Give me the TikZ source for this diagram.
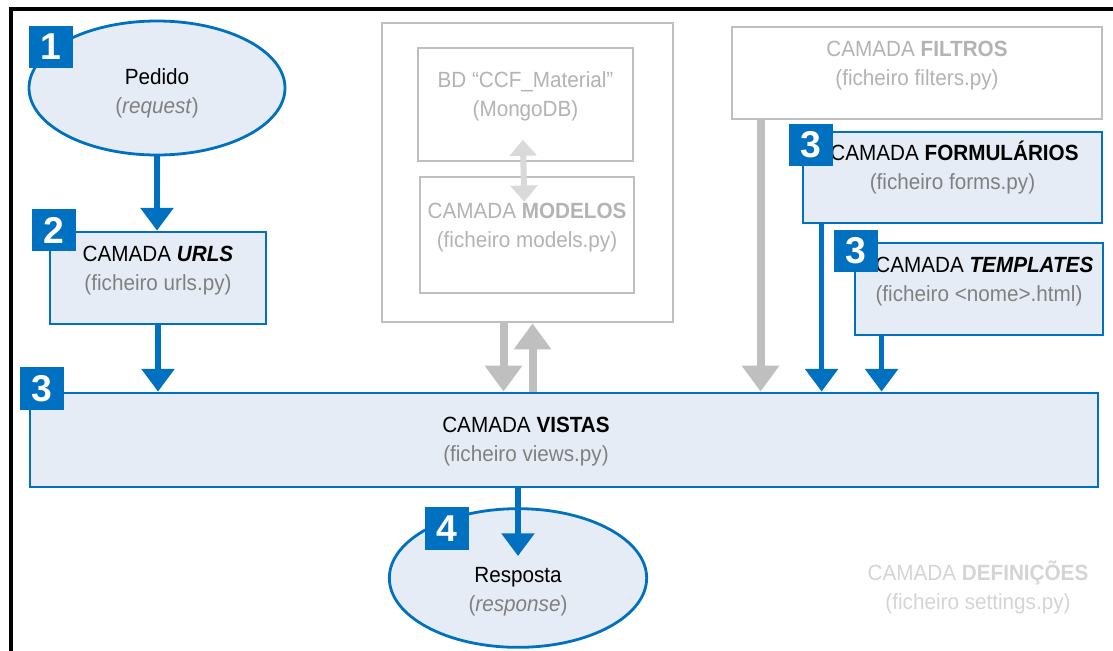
\documentclass[tikz,border=0pt]{standalone}
\usepackage{fontspec}
\setmainfont[FakeStretch=0.94]{Liberation Sans}
\newfontfamily\digitfont{Liberation Sans}
\usetikzlibrary{arrows.meta,shapes.geometric,fit}

\definecolor{navy}{HTML}{0070C0}
\definecolor{paleblue}{HTML}{E6ECF6}
\definecolor{subgray}{HTML}{808080}
\definecolor{boxgray}{HTML}{BFBFBF}
\definecolor{fadedtext}{HTML}{B3B3B3}
\definecolor{lightline}{HTML}{D9D9D9}
\definecolor{ghost}{HTML}{D4D4D4}

\newcommand{\subline}[1]{{\color{subgray}#1}}

\tikzset{
  txt/.style={align=center, inner sep=0pt, font=\fontsize{16.5}{21.75}\selectfont},
  layer/.style={txt, draw=navy, fill=paleblue, line width=2.1pt},
  greylayer/.style={txt, draw=boxgray, fill=white, line width=2.2pt, text=fadedtext},
  oval/.style={ellipse, draw=navy, fill=paleblue, line width=2.1pt, inner sep=0pt},
  badge/.style={fill=navy, text=white, minimum width=33pt, minimum height=32pt,
    inner sep=0pt, font=\digitfont\fontsize{28}{28}\selectfont\bfseries},
  flow/.style={draw=navy, line width=4.1pt, -{Triangle[width=24pt,length=17pt]}},
  greyflow/.style={draw=boxgray, line width=6pt, -{Triangle[width=27pt,length=19.5pt]}},
  linkflow/.style={draw=lightline, line width=4.5pt,
    {Triangle[width=20pt,length=12pt]}-{Triangle[width=20pt,length=12pt]}},
}

\begin{document}
\begin{tikzpicture}[x=0.75pt, y=-0.75pt]
\useasboundingbox (0,0) rectangle (1113,650);

% frame lines (top and left)
\draw[line width=2.3pt, line cap=rect] (11,650) -- (11,9) -- (1113,9);

% request / response ovals
\node[oval, minimum width=192pt, minimum height=100.5pt] (pedido) at (157,88) {};
\node[txt] (pedidotxt) at (157,93.5) {Pedido\\\subline{(\textit{request})}};

\node[oval, minimum width=193pt, minimum height=104pt] (resp) at (518,578) {};
\node[txt] (resptxt) at (518,592) {Resposta\\\subline{(\textit{response})}};

% URLS layer
\node[layer, fit={(50,232) (266,324)}] (urls)
  {CAMADA \textbf{\textit{URLS}}\\\subline{(ficheiro urls.py)}};

% VISTAS layer
\node[layer, fit={(30,393) (1098,487)}] (vistas) {};
\node[txt] (vistastxt) at (526,441.5)
  {CAMADA \textbf{VISTAS}\\\subline{(ficheiro views.py)}};

% database and models
\node[greylayer, fit={(382,23) (673,322)}] (modelsframe) {};
\node[greylayer, fit={(418,48) (633,161)}] (bd)
  {BD “CCF\_Material”\\(MongoDB)};
\node[greylayer, fit={(420,177) (634,293)}] (models)
  {CAMADA \textbf{MODELOS}\\(ficheiro models.py)};

% filters, forms, templates
\node[greylayer, fit={(732,27) (1102,119)}] (filters)
  {CAMADA \textbf{FILTROS}\\(ficheiro filters.py)};
\node[layer, fit={(803,132) (1102,223)}] (forms)
  {\hspace*{3pt}CAMADA \textbf{FORMULÁRIOS}\\\subline{(ficheiro forms.py)}};
\node[layer, fit={(855,243) (1103,335)}] (templates)
  {\hspace*{8pt}CAMADA \textbf{\textit{TEMPLATES}}\\\subline{(ficheiro <nome>.html)}};

% settings layer (no box)
\node[txt, text=ghost] (settings) at (978,587)
  {CAMADA \textbf{DEFINIÇÕES}\\(ficheiro settings.py)};

% connectors
\coordinate (resptip) at (518,556);
\draw[flow] (pedido.south) -- (pedido.south |- urls.north);
\draw[flow] (urls.south) -- (urls.south |- vistas.north);
\draw[flow] (resptip |- vistas.south) -- (resptip);
\draw[flow] ([xshift=15pt]forms.south west) -- ([xshift=15pt]forms.south west |- vistas.north);
\draw[flow] ([xshift=21pt]templates.south west) -- ([xshift=21pt]templates.south west |- vistas.north);
\draw[greyflow] ([xshift=22.5pt]filters.south west) -- ([xshift=22.5pt]filters.south west |- vistas.north);
\draw[greyflow] ([xshift=92.25pt]modelsframe.south west) -- ([xshift=92.25pt]modelsframe.south west |- vistas.north);
\draw[greyflow] ([xshift=114pt]modelsframe.south west |- vistas.north) -- ([xshift=114pt]modelsframe.south west);
\draw[linkflow] ([xshift=-2pt,yshift=17pt]bd.south) -- ([xshift=-2pt,yshift=-19.5pt]models.north);

% step badges
\node[badge] (b1) at (51,47) {1};
\node[badge] (b2) at (54,230) {2};
\node[badge] (b3) at (42,388.5) {3};
\node[badge] (b3f) at (811,145) {3};
\node[badge] (b3t) at (855.5,251) {3};
\node[badge] (b4) at (446.5,528.5) {4};
\end{tikzpicture}
\end{document}
